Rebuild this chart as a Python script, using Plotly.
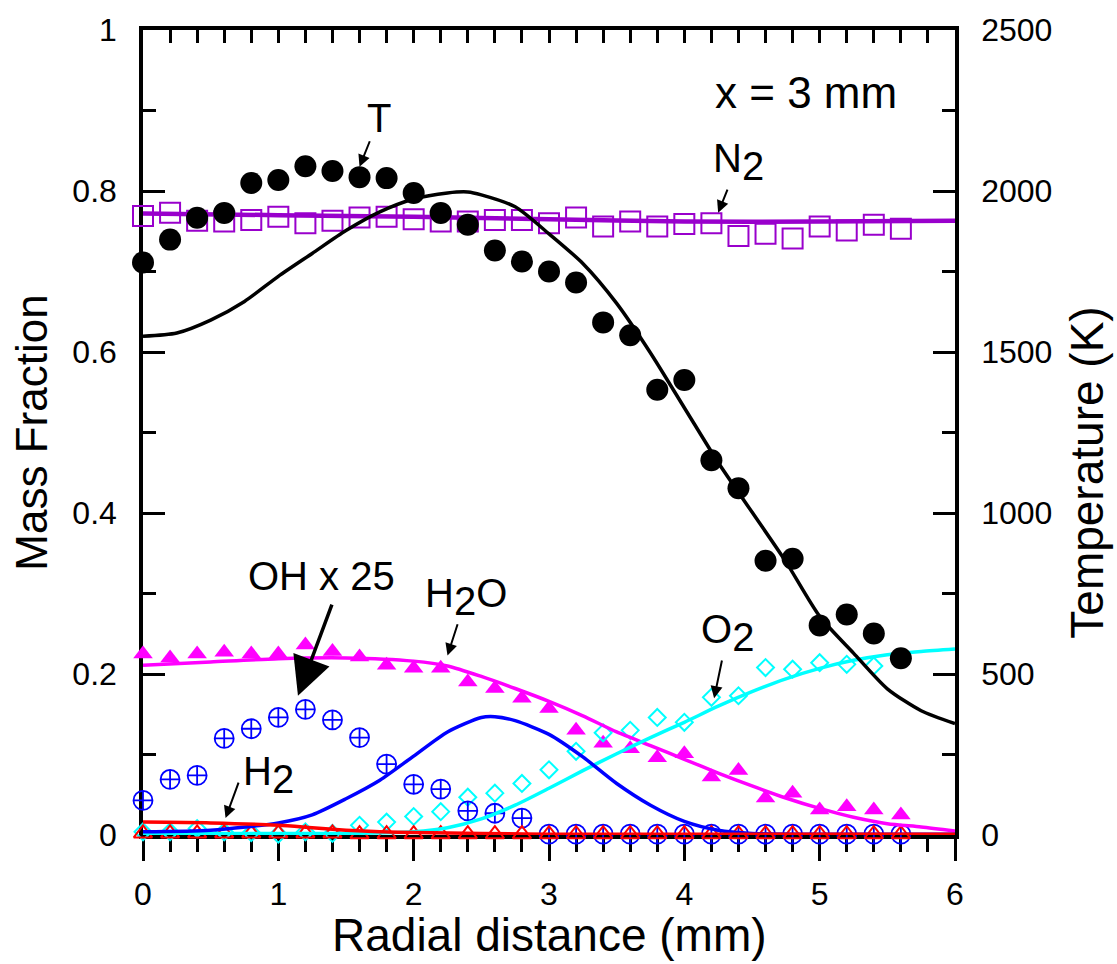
import plotly.graph_objects as go

# ---------------- data ----------------
r_exp = [0.0, 0.2, 0.4, 0.6, 0.8, 1.0, 1.2, 1.4, 1.6, 1.8, 2.0, 2.2, 2.4, 2.6, 2.8,
         3.0, 3.2, 3.4, 3.6, 3.8, 4.0, 4.2, 4.4, 4.6, 4.8, 5.0, 5.2, 5.4, 5.6]
T_exp = [1778, 1849, 1917, 1932, 2025, 2034, 2077, 2062, 2043, 2040, 1994, 1932, 1895, 1815, 1781,
         1750, 1716, 1592, 1552, 1383, 1413, 1164, 1077, 852, 858, 651, 685, 626, 549]
N2_exp = [0.769, 0.773, 0.763, 0.762, 0.764, 0.768, 0.760, 0.763, 0.767, 0.768, 0.765, 0.762, 0.762, 0.764, 0.764,
          0.760, 0.767, 0.756, 0.762, 0.756, 0.759, 0.760, 0.744, 0.747, 0.741, 0.756, 0.751, 0.758, 0.753]
H2O_exp = [0.225, 0.220, 0.225, 0.227, 0.225, 0.225, 0.236, 0.228, 0.221, 0.211, 0.207, 0.207, 0.190, 0.182, 0.170,
           0.157, 0.130, 0.114, 0.107, 0.096, 0.101, 0.072, 0.080, 0.046, 0.052, 0.031, 0.035, 0.031, 0.025]
r_O2_exp = [0.0, 0.2, 0.4, 0.6, 0.8, 1.0, 1.2, 1.4, 1.6, 1.8, 2.0, 2.2, 2.4, 2.6, 2.8,
            3.0, 3.2, 3.4, 3.6, 3.8, 4.0, 4.2, 4.4, 4.6, 4.8, 5.0, 5.2, 5.4]
O2_exp = [0.004, 0.004, 0.008, 0.004, 0.003, 0.001, 0.004, 0.002, 0.012, 0.016, 0.023, 0.029, 0.047, 0.052, 0.064,
          0.081, 0.104, 0.127, 0.130, 0.146, 0.140, 0.171, 0.173, 0.208, 0.206, 0.214, 0.212, 0.210]
OH_exp = [0.043, 0.069, 0.074, 0.120, 0.132, 0.146, 0.156, 0.143, 0.121, 0.088, 0.063, 0.057, 0.030, 0.027, 0.021,
          0.001, 0.001, 0.001, 0.001, 0.001, 0.001, 0.001, 0.001, 0.001, 0.001, 0.001, 0.001, 0.001, 0.001]
H2_exp = [0.002, 0.002, 0.002, 0.002, 0.002, 0.002, 0.002, 0.002, 0.001, 0.001, 0.001, 0.001, 0.001, 0.001, 0.001,
          0.001, 0.001, 0.001, 0.001, 0.001, 0.001, 0.001, 0.001, 0.001, 0.001, 0.001, 0.001, 0.001, 0.001]

r_T_line = [0, 0.25, 0.5, 0.75, 1.0, 1.25, 1.5, 1.75, 2.0, 2.25, 2.4, 2.5, 2.75, 3.0, 3.25,
            3.5, 3.75, 4.0, 4.25, 4.5, 4.75, 5.0, 5.25, 5.5, 5.75, 6.0]
T_line = [1549, 1559, 1599, 1657, 1735, 1806, 1877, 1935, 1975, 1994, 1997, 1988, 1951, 1867, 1775,
          1651, 1497, 1327, 1157, 1003, 849, 679, 565, 454, 386, 346]
r_N2_line = [0, 1, 2, 3, 4, 5, 6]
N2_line = [0.772, 0.770, 0.768, 0.765, 0.762, 0.762, 0.763]
r_H2O_line = [0, 0.5, 1.0, 1.5, 2.0, 2.25, 2.5, 2.75, 3.0, 3.25, 3.5, 3.75, 4.0, 4.25, 4.5, 4.75,
              5.0, 5.25, 5.5, 5.75, 6.0]
H2O_line = [0.211, 0.215, 0.219, 0.220, 0.216, 0.210, 0.197, 0.182, 0.166, 0.148, 0.128, 0.111, 0.094, 0.077,
            0.061, 0.046, 0.033, 0.022, 0.014, 0.010, 0.005]
r_O2_line = [0, 1.0, 1.5, 2.0, 2.25, 2.5, 2.75, 3.0, 3.25, 3.5, 3.75, 4.0, 4.25, 4.5, 4.75, 5.0, 5.25,
             5.5, 5.75, 6.0]
O2_line = [0.002, 0.002, 0.002, 0.004, 0.009, 0.020, 0.037, 0.058, 0.080, 0.101, 0.121, 0.140, 0.160, 0.178,
           0.194, 0.207, 0.217, 0.224, 0.228, 0.231]
r_OH_line = [0, 0.5, 1.0, 1.25, 1.5, 1.75, 2.0, 2.25, 2.5, 2.6, 2.75, 3.0, 3.25, 3.5, 3.75, 4.0, 4.25,
             4.5, 5.0, 6.0]
OH_line = [0.004, 0.006, 0.015, 0.025, 0.045, 0.068, 0.098, 0.128, 0.146, 0.147, 0.142, 0.125, 0.097, 0.064,
           0.037, 0.017, 0.006, 0.002, 0.001, 0.001]
r_H2_line = [0, 0.5, 1.0, 1.25, 1.5, 1.75, 2.0, 2.5, 3.0, 6.0]
H2_line = [0.016, 0.015, 0.012, 0.009, 0.006, 0.004, 0.003, 0.002, 0.001, 0.001]

x_ticks = [0, 1, 2, 3, 4, 5, 6]
y_ticks = [0, 0.2, 0.4, 0.6, 0.8, 1]
T_ticks = [0, 500, 1000, 1500, 2000, 2500]

# ---------------- styles ----------------
FONT = "Liberation Sans, Arial, sans-serif"
PURPLE = "#9900CC"
MAGENTA = "#FF00FF"
CYAN = "#00FFFF"
BLUE = "#0000FF"
RED = "#FF0000"

fig = go.Figure()

def mk(x, y, symbol, color, size, lw=2, yaxis="y"):
    fig.add_trace(go.Scatter(x=x, y=y, mode="markers", yaxis=yaxis, cliponaxis=False,
                             marker=dict(symbol=symbol, size=size, color=color,
                                         line=dict(color=color, width=lw)),
                             showlegend=False, hoverinfo="skip"))

def ln(x, y, color, width, yaxis="y"):
    fig.add_trace(go.Scatter(x=x, y=y, mode="lines", yaxis=yaxis, cliponaxis=False,
                             line=dict(color=color, width=width, shape="spline", smoothing=0.7),
                             showlegend=False, hoverinfo="skip"))

mk(r_exp, T_exp, "circle", "black", 22, 0, yaxis="y2")
mk(r_exp, N2_exp, "square-open", PURPLE, 20, 2)
mk(r_exp, H2O_exp, "triangle-up", MAGENTA, 17, 0)
mk(r_O2_exp, O2_exp, "diamond-open", CYAN, 13, 2)
mk(r_exp, OH_exp, "circle-cross-open", BLUE, 19, 1.8)
mk(r_exp, H2_exp, "triangle-up-open", RED, 16, 2)

ln(r_T_line, T_line, "black", 3.5, yaxis="y2")
ln(r_N2_line, N2_line, PURPLE, 4.5)
ln(r_H2O_line, H2O_line, MAGENTA, 3.5)
ln(r_O2_line, O2_line, CYAN, 3.5)
ln(r_OH_line, OH_line, BLUE, 3.5)
ln(r_H2_line, H2_line, RED, 3.5)

axis_common = dict(showgrid=False, zeroline=False, showline=True, linecolor="black", linewidth=3.5,
                   tickcolor="black", tickwidth=3, layer="below traces")

fig.update_layout(
    width=1117, height=964,
    margin=dict(l=143, r=162, t=25, b=129),
    paper_bgcolor="white", plot_bgcolor="white",
    font=dict(family=FONT, color="black"),
    xaxis=dict(range=[0, 6], tickvals=x_ticks, ticks="outside", ticklen=22,
               ticklabelstandoff=6,
               minor=dict(dtick=0.2, ticks="outside", ticklen=13, tickwidth=3, tickcolor="black"),
               tickfont=dict(size=32, family=FONT),
               **axis_common),
    xaxis2=dict(range=[0, 6], overlaying="x", side="top", tickvals=x_ticks, ticks="inside",
                ticklen=13, showticklabels=False,
                minor=dict(dtick=0.2, ticks="inside", ticklen=13, tickwidth=3, tickcolor="black"),
                **axis_common),
    yaxis=dict(range=[0, 1], tickvals=y_ticks, ticks="inside", ticklen=22,
               ticklabelstandoff=16,
               minor=dict(dtick=0.1, ticks="inside", ticklen=13, tickwidth=3, tickcolor="black"),
               tickfont=dict(size=32, family=FONT),
               title=dict(text="Mass Fraction", font=dict(size=44, family=FONT), standoff=12),
               **axis_common),
    yaxis2=dict(range=[0, 2500], overlaying="y", side="right", tickvals=T_ticks, ticks="inside",
                ticklen=22, ticklabelstandoff=16,
                minor=dict(dtick=250, ticks="inside", ticklen=13, tickwidth=3, tickcolor="black"),
                tickfont=dict(size=32, family=FONT),
                **axis_common),
)

# dummy trace so xaxis2 is drawn
fig.add_trace(go.Scatter(x=[0], y=[0], xaxis="x2", mode="markers", marker=dict(opacity=0),
                         showlegend=False, hoverinfo="skip"))

# axis titles placed as in the original
fig.add_annotation(x=0.5, y=-0.1245, xref="paper", yref="paper", text="Radial distance (mm)",
                   xanchor="center", yanchor="middle", showarrow=False,
                   font=dict(size=46, family=FONT, color="black"))
fig.add_annotation(x=1.1625, y=0.45, xref="paper", yref="paper", text="Temperature (K)",
                   xanchor="center", yanchor="middle", textangle=-90, showarrow=False,
                   font=dict(size=46, family=FONT, color="black"))

SUB = "<sub><span style='font-size:40px'>2</span></sub>"

def label(text, x, y, size=40, hx=None, hy=None):
    if hx is None:
        fig.add_annotation(x=x, y=y, xref="x", yref="y", text=text, showarrow=False,
                           font=dict(size=size, family=FONT, color="black"))
    else:
        fig.add_annotation(x=hx, y=hy, ax=x, ay=y, xref="x", yref="y", axref="x", ayref="y",
                           text=text, showarrow=True, arrowhead=2, arrowsize=1.2, arrowwidth=2,
                           arrowcolor="black", font=dict(size=size, family=FONT, color="black"))

def arrow(x0, y0, x1, y1, width=2, size=1.2):
    fig.add_annotation(x=x1, y=y1, ax=x0, ay=y0, xref="x", yref="y", axref="x", ayref="y",
                       text="", showarrow=True, arrowhead=2, arrowsize=size, arrowwidth=width,
                       arrowcolor="black")

label("x = 3 mm", 4.90, 0.922, 44)
label("T", 1.745, 0.891, 40, hx=1.60, hy=0.830)
label("N" + SUB, 4.40, 0.836, 40, hx=4.25, hy=0.773)
label("H" + SUB + "O", 2.39, 0.296, 40, hx=2.25, hy=0.223)
label("OH x 25", 1.32, 0.322, 40)
arrow(1.40, 0.288, 1.145, 0.173, width=3.5, size=2.2)
label("O" + SUB, 4.32, 0.251, 40, hx=4.22, hy=0.170)
label("H" + SUB, 0.93, 0.074, 40)
arrow(0.71, 0.067, 0.61, 0.021)

fig.write_html("out.html")
